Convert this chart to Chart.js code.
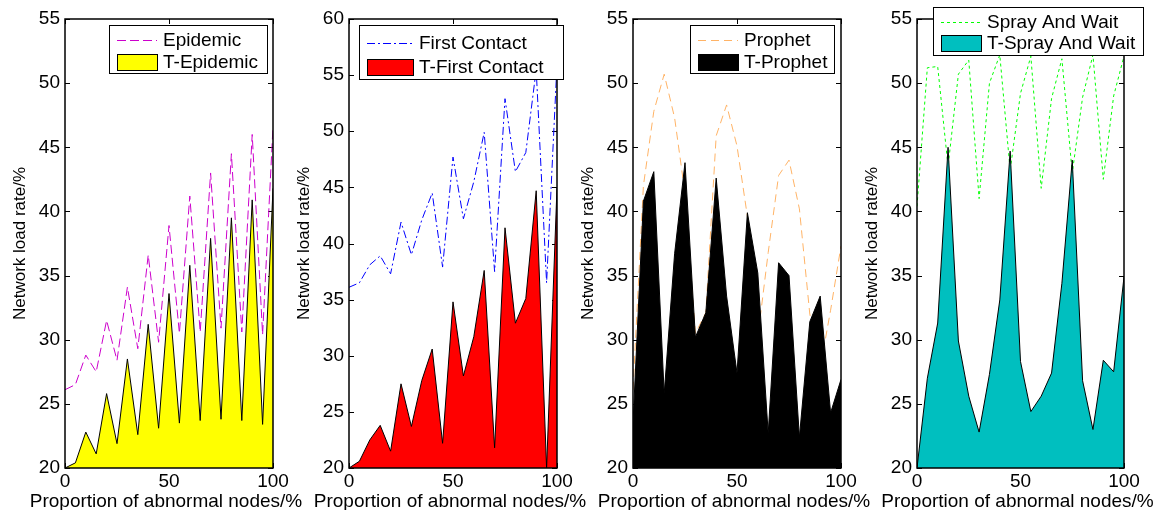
<!DOCTYPE html>
<html lang="en">
<head>
<meta charset="UTF-8">
<title>Network load rate vs proportion of abnormal nodes</title>
<script src="https://cdn.jsdelivr.net/npm/chart.js"></script>
<style>
  body { margin: 0; background: white; }
  #wrap { position: relative; width: 1154px; height: 510px; overflow: hidden; }
  canvas { position: absolute; left: 0; top: 0; }
</style>
</head>
<body>
<div id="wrap">
  <canvas id="c1" width="1154" height="510"></canvas>
  <canvas id="c2" width="1154" height="510"></canvas>
  <canvas id="c3" width="1154" height="510"></canvas>
  <canvas id="c4" width="1154" height="510"></canvas>
</div>
<script>
// x positions: proportion of abnormal nodes (%)
const xValues = [0, 5, 10, 15, 20, 25, 30, 35, 40, 45, 50, 55, 60, 65, 70, 75, 80, 85, 90, 95, 100];
const xTicks = [0, 50, 100];
const yTicks55 = [20, 25, 30, 35, 40, 45, 50, 55];
const yTicks60 = [20, 25, 30, 35, 40, 45, 50, 55, 60];

const epidemic      = [26.1, 26.5, 28.8, 27.5, 31.5, 28.4, 34.1, 29.3, 36.6, 29.8, 38.9, 30.5, 41.2, 30.6, 43.0, 30.9, 44.5, 30.6, 46.0, 30.4, 46.6];
const tEpidemic     = [20.0, 20.4, 22.8, 21.1, 25.8, 21.9, 28.5, 22.6, 31.2, 23.1, 33.6, 23.5, 35.8, 23.7, 37.9, 23.8, 39.5, 23.7, 40.9, 23.4, 41.8];

const firstContact  = [36.1, 36.5, 38.1, 38.9, 37.3, 41.9, 39.0, 42.1, 44.5, 37.9, 47.7, 42.2, 45.5, 49.9, 37.5, 52.9, 46.4, 48.1, 55.5, 36.5, 56.0];
const tFirstContact = [20.0, 20.6, 22.5, 23.8, 21.5, 27.5, 23.7, 27.8, 30.6, 22.2, 34.8, 28.2, 31.7, 37.6, 21.8, 41.4, 32.9, 35.1, 44.7, 20.0, 45.0];

const prophet       = [26.1, 42.0, 47.8, 50.7, 47.3, 41.4, 30.5, 32.1, 45.9, 48.3, 45.1, 39.6, 30.2, 36.8, 42.8, 44.0, 40.2, 32.0, 27.8, 32.3, 37.3];
const tProphet      = [23.5, 40.8, 43.1, 25.8, 36.7, 43.8, 30.2, 32.1, 42.6, 33.4, 27.4, 39.9, 35.2, 22.7, 36.0, 35.0, 22.4, 31.4, 33.4, 24.3, 26.9];

const sprayWait     = [40.4, 51.2, 51.3, 43.5, 50.7, 51.8, 41.0, 50.0, 52.2, 43.2, 49.2, 52.1, 41.8, 48.8, 51.9, 43.0, 48.9, 52.2, 42.5, 49.0, 52.1];
const tSprayWait    = [20.0, 27.0, 31.3, 45.0, 29.9, 25.6, 22.8, 27.3, 33.1, 44.7, 28.3, 24.4, 25.6, 27.4, 34.4, 44.0, 26.8, 23.0, 28.4, 27.5, 34.9];

const xTitle = 'Proportion of abnormal nodes/%';
const yTitle = 'Network load rate/%';

const FONT = '"Liberation Sans", Arial, Helvetica, sans-serif';

function points(arr) {
  return xValues.map((x, i) => ({ x: x, y: arr[i] }));
}

// inward ticks on all four sides plus the black frame
const matlabBox = {
  id: 'matlabBox',
  beforeDatasetsDraw(chart) {
    const { ctx, chartArea: a, scales } = chart;
    ctx.save();
    ctx.strokeStyle = '#000';
    ctx.lineWidth = 1;
    scales.y.ticks.forEach(t => {
      const y = Math.round(scales.y.getPixelForValue(t.value)) + 0.5;
      ctx.beginPath();
      ctx.moveTo(a.left, y); ctx.lineTo(a.left + 5, y);
      ctx.moveTo(a.right, y); ctx.lineTo(a.right - 5, y);
      ctx.stroke();
    });
    scales.x.ticks.forEach(t => {
      const x = Math.round(scales.x.getPixelForValue(t.value)) + 0.5;
      ctx.beginPath();
      ctx.moveTo(x, a.bottom); ctx.lineTo(x, a.bottom - 5);
      ctx.moveTo(x, a.top); ctx.lineTo(x, a.top + 5);
      ctx.stroke();
    });
    ctx.restore();
  },
  afterDatasetsDraw(chart) {
    const { ctx, chartArea: a } = chart;
    ctx.save();
    ctx.strokeStyle = '#000';
    ctx.lineWidth = 1.5;
    ctx.strokeRect(a.left, a.top, a.right - a.left, a.bottom - a.top);
    ctx.restore();
  },
  // x title drawn here so it is not squeezed to the axis width
  afterDraw(chart) {
    const { ctx, chartArea: a } = chart;
    ctx.save();
    ctx.font = '19px ' + FONT;
    ctx.fillStyle = '#000';
    ctx.textAlign = 'center';
    ctx.textBaseline = 'alphabetic';
    ctx.fillText(xTitle, (a.left + a.right) / 2 - 3, 507);
    ctx.restore();
  }
};

// boxed legend inside the axes, like the original figure
const boxLegend = {
  id: 'boxLegend',
  afterDraw(chart, args, opts) {
    const ctx = chart.ctx;
    const [bx, by, bw, bh] = opts.box;
    ctx.save();
    ctx.fillStyle = '#fff';
    ctx.fillRect(bx, by, bw, bh);
    ctx.strokeStyle = '#000';
    ctx.lineWidth = 1;
    ctx.strokeRect(bx + 0.5, by + 0.5, bw, bh);
    ctx.font = '19px ' + FONT;
    ctx.textBaseline = 'middle';
    chart.data.datasets.forEach((ds, i) => {
      const y = by + opts.rows[i];
      const x0 = bx + 8;
      const x1 = x0 + opts.sample;
      if (ds.fill) {
        ctx.setLineDash([]);
        ctx.fillStyle = ds.backgroundColor;
        ctx.fillRect(x0, y - 8, opts.sample, 16);
        ctx.strokeStyle = '#000';
        ctx.strokeRect(x0 + 0.5, y - 7.5, opts.sample, 16);
      } else {
        ctx.strokeStyle = ds.borderColor;
        ctx.setLineDash(ds.borderDash || []);
        ctx.beginPath();
        ctx.moveTo(x0, Math.round(y) + 0.5);
        ctx.lineTo(x1, Math.round(y) + 0.5);
        ctx.stroke();
      }
      ctx.setLineDash([]);
      ctx.fillStyle = '#000';
      ctx.fillText(ds.label, x1 + 6, y + 1);
    });
    ctx.restore();
  }
};

function makePanel(id, plotLeft, plotRight, yMax, yTicks, line, area, legend) {
  const yW = 60;
  return new Chart(document.getElementById(id), {
    type: 'line',
    data: {
      datasets: [
        {
          label: line.label,
          data: points(line.data),
          borderColor: line.color,
          borderDash: line.dash,
          borderWidth: 1,
          pointRadius: 0,
          fill: false,
          tension: 0,
          order: 2
        },
        {
          label: area.label,
          data: points(area.data),
          borderColor: '#000',
          backgroundColor: area.color,
          borderWidth: 1,
          pointRadius: 0,
          fill: 'start',
          tension: 0,
          order: 1
        }
      ]
    },
    options: {
      responsive: false,
      animation: false,
      events: [],
      layout: {
        padding: { left: plotLeft - yW, right: 1154 - plotRight, top: 19, bottom: 0 }
      },
      scales: {
        x: {
          type: 'linear',
          min: 0,
          max: 100,
          afterBuildTicks: s => { s.ticks = xTicks.map(v => ({ value: v })); },
          afterFit: s => { s.height = 42; },
          grid: { display: false, drawTicks: false },
          border: { display: false },
          ticks: { color: '#000', padding: 2, maxRotation: 0, font: { family: FONT, size: 19 } }
        },
        y: {
          min: 20,
          max: yMax,
          afterBuildTicks: s => { s.ticks = yTicks.map(v => ({ value: v })); },
          afterFit: s => { s.width = yW; },
          grid: { display: false, drawTicks: false },
          border: { display: false },
          ticks: { color: '#000', padding: 5, font: { family: FONT, size: 19 } },
          title: {
            display: true,
            text: yTitle,
            color: '#000',
            padding: { top: 5, bottom: 0 },
            font: { family: FONT, size: 17 }
          }
        }
      },
      plugins: {
        legend: { display: false },
        tooltip: { enabled: false },
        boxLegend: legend
      }
    },
    plugins: [matlabBox, boxLegend]
  });
}

makePanel('c1', 65, 273, 55, yTicks55,
  { label: 'Epidemic', data: epidemic, color: '#cc00cc', dash: [9, 4] },
  { label: 'T-Epidemic', data: tEpidemic, color: '#ffff00' },
  { box: [109, 25, 158, 48], rows: [15, 37], sample: 40 });

makePanel('c2', 349, 557, 60, yTicks60,
  { label: 'First Contact', data: firstContact, color: '#0000ff', dash: [8, 3, 2, 3] },
  { label: 'T-First Contact', data: tFirstContact, color: '#ff0000' },
  { box: [359, 25, 204, 54], rows: [18, 42], sample: 46 });

makePanel('c3', 633, 841, 55, yTicks55,
  { label: 'Prophet', data: prophet, color: '#ffb366', dash: [8, 5] },
  { label: 'T-Prophet', data: tProphet, color: '#000000' },
  { box: [690, 25, 144, 48], rows: [15, 37], sample: 40 });

makePanel('c4', 917, 1124, 55, yTicks55,
  { label: 'Spray And Wait', data: sprayWait, color: '#00ff00', dash: [3, 3] },
  { label: 'T-Spray And Wait', data: tSprayWait, color: '#00bfbf' },
  { box: [933, 7, 210, 48], rows: [15, 36], sample: 40 });
</script>
</body>
</html>
